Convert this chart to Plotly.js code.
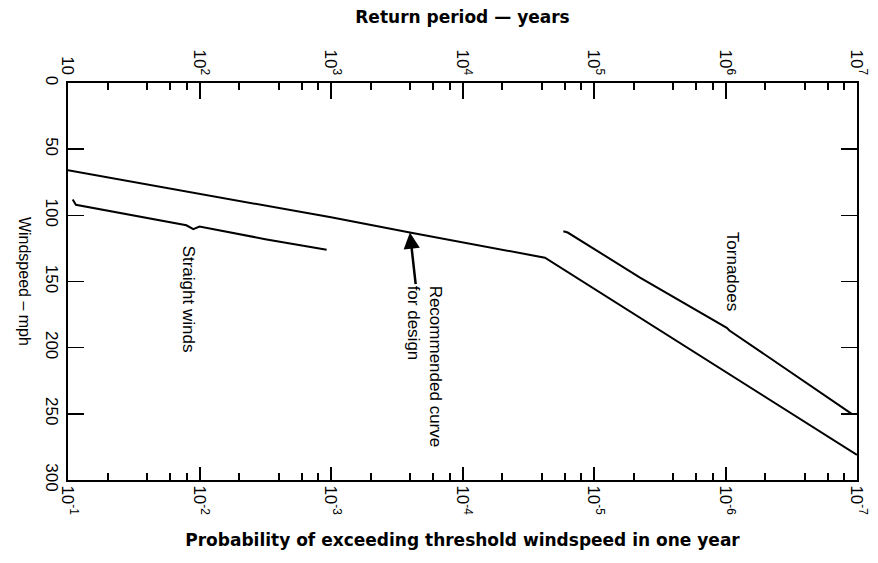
<!DOCTYPE html>
<html>
<head>
<meta charset="utf-8">
<script src="https://cdn.plot.ly/plotly-3.0.1.min.js"></script>
<style>
  html, body { margin: 0; padding: 0; background: #fff; }
  #chart { width: 878px; height: 563px; }
</style>
</head>
<body>
<div id="chart"></div>
<script>
// ---- data (probability of exceedance per year, windspeed mph) ----
const recommendedProb  = [1e-1, 1e-2, 10**-2.46, 1e-3, 10**-3.6, 10**-4.13, 10**-4.627, 1e-7];
const recommendedSpeed = [66, 84, 92, 101.5, 113, 123, 132, 281];

const straightProb  = [10**-1.036, 10**-1.06, 10**-1.9, 10**-1.953, 10**-2.0, 10**-2.5, 10**-2.967];
const straightSpeed = [88, 92, 107.5, 110.5, 108.5, 118, 126];

const tornadoProb  = [10**-4.767, 10**-4.8, 10**-5.35, 10**-6.01, 10**-6.03, 10**-6.96];
const tornadoSpeed = [112, 113, 147, 185, 187, 250];

// ---- axis ticks ----
const probTicks   = [1e-1, 1e-2, 1e-3, 1e-4, 1e-5, 1e-6, 1e-7];
const probLabels  = ['10<sup>-1</sup>','10<sup>-2</sup>','10<sup>-3</sup>','10<sup>-4</sup>','10<sup>-5</sup>','10<sup>-6</sup>','10<sup>-7</sup>'];
const periodTicks  = [10, 1e2, 1e3, 1e4, 1e5, 1e6, 1e7];
const periodLabels = ['10','10<sup>2</sup>','10<sup>3</sup>','10<sup>4</sup>','10<sup>5</sup>','10<sup>6</sup>','10<sup>7</sup>'];
const speedTicks  = [0, 50, 100, 150, 200, 250, 300];
const minorMultiples = [2, 4, 6, 8];

const periodMinor = [];
for (let d = 1; d <= 6; d++) minorMultiples.forEach(m => periodMinor.push(m * 10 ** d));
const probMinor = periodMinor.map(v => 1 / v);

const FONT = 'Liberation Sans, Arial, sans-serif';
const TITLE_FONT = 'DejaVu Sans, Verdana, sans-serif';
const lineStyle = {color: '#000', width: 2};

const traces = [
  {x: recommendedProb, y: recommendedSpeed, mode: 'lines', line: lineStyle, xaxis: 'x', yaxis: 'y', hoverinfo: 'skip'},
  {x: straightProb, y: straightSpeed, mode: 'lines', line: lineStyle, xaxis: 'x', yaxis: 'y', hoverinfo: 'skip'},
  // tornado curve drawn against the return-period axis (return period = 1 / probability)
  {x: tornadoProb.map(p => 1 / p), y: tornadoSpeed, mode: 'lines', line: lineStyle, xaxis: 'x2', yaxis: 'y', hoverinfo: 'skip'}
];

const tickFont = {family: FONT, size: 17, color: '#000'};

const layout = {
  width: 878, height: 563,
  margin: {l: 68, r: 21, t: 83, b: 83},
  paper_bgcolor: '#fff', plot_bgcolor: '#fff',
  showlegend: false,
  font: {family: FONT, color: '#000'},
  xaxis: {
    type: 'log', range: [-1, -7], side: 'bottom',
    showline: true, linecolor: '#000', linewidth: 2, mirror: false,
    showgrid: false, zeroline: false,
    ticks: 'inside', ticklen: 13, tickwidth: 2, tickcolor: '#000',
    tickmode: 'array', tickvals: probTicks, ticktext: probLabels,
    tickangle: 90, tickfont: tickFont,
    minor: {tickmode: 'array', tickvals: probMinor, ticks: 'inside', ticklen: 7, tickwidth: 2, tickcolor: '#000', showgrid: false},
    title: {text: 'Probability of exceeding threshold windspeed in one year', font: {family: TITLE_FONT, size: 17, weight: 'bold', color: '#000'}, standoff: 20}
  },
  xaxis2: {
    type: 'log', range: [1, 7], side: 'top', overlaying: 'x', anchor: 'y',
    showline: true, linecolor: '#000', linewidth: 2,
    showgrid: false, zeroline: false,
    ticks: 'inside', ticklen: 16, tickwidth: 2, tickcolor: '#000',
    tickmode: 'array', tickvals: periodTicks, ticktext: periodLabels,
    tickangle: 90, tickfont: tickFont,
    minor: {tickmode: 'array', tickvals: periodMinor, ticks: 'inside', ticklen: 7, tickwidth: 2, tickcolor: '#000', showgrid: false},
    title: {text: 'Return period \u2014 years', font: {family: TITLE_FONT, size: 17, weight: 'bold', color: '#000'}, standoff: 22}
  },
  yaxis: {
    range: [300, 0],
    showline: true, linecolor: '#000', linewidth: 2, mirror: 'ticks',
    showgrid: false, zeroline: false,
    ticks: 'inside', ticklen: 16, tickwidth: 1.5, tickcolor: '#000',
    tickmode: 'array', tickvals: speedTicks,
    tickangle: 90, tickfont: tickFont
  },
  annotations: [
    {xref: 'paper', yref: 'paper', x: -0.055, y: 0.5, text: 'Windspeed \u2013 mph', textangle: 90,
     showarrow: false, font: {family: FONT, size: 16, color: '#000'}, xanchor: 'center', yanchor: 'middle'},
    {xref: 'x', yref: 'y', x: -1.913, y: 163, text: 'Straight winds', textangle: 90,
     showarrow: false, font: {family: FONT, size: 17, color: '#000'}},
    {xref: 'x', yref: 'y', x: -6.05, y: 142, text: 'Tornadoes', textangle: 90,
     showarrow: false, font: {family: FONT, size: 17, color: '#000'}},
    {xref: 'x', yref: 'y', x: -3.6, y: 113, text: 'Recommended curve<br>for design', textangle: 90, align: 'left',
     showarrow: true, axref: 'pixel', ayref: 'pixel', ax: 15, ay: 134,
     arrowhead: 2, arrowsize: 1.3, arrowwidth: 2.5, arrowcolor: '#000',
     font: {family: FONT, size: 17, color: '#000'}}
  ]
};

Plotly.newPlot('chart', traces, layout, {staticPlot: true, displayModeBar: false});
</script>
</body>
</html>
